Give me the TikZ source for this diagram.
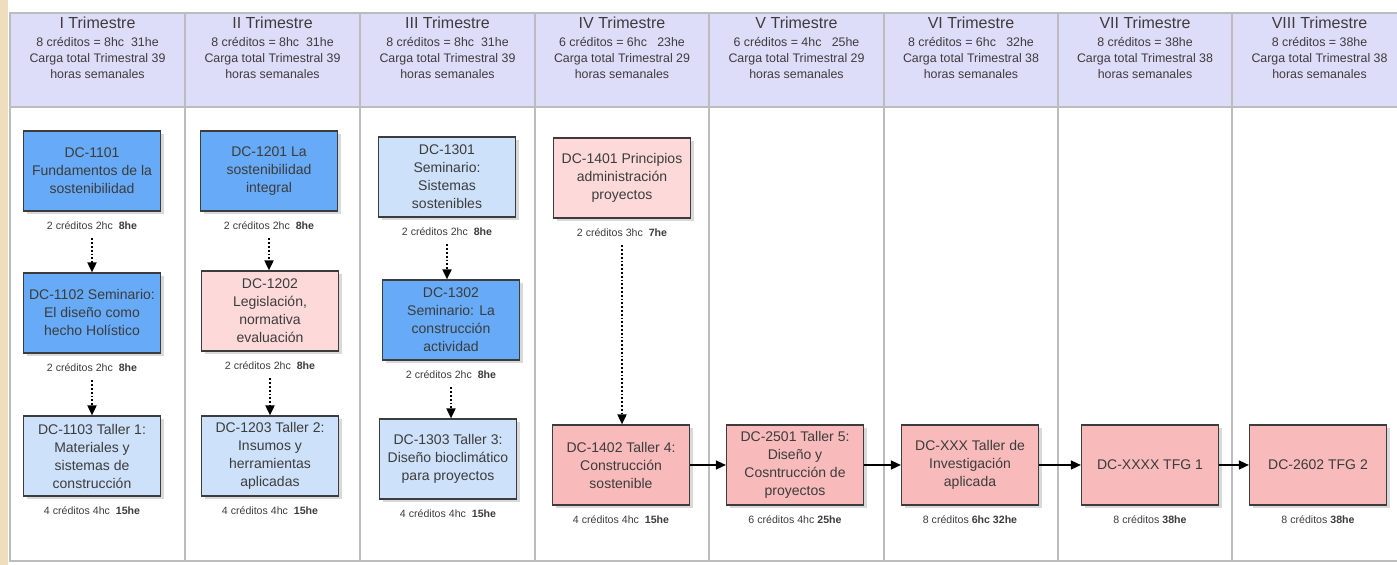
\documentclass[tikz,border=0pt]{standalone}
\usepackage{fontspec}
\setmainfont{Liberation Sans}
\usetikzlibrary{arrows.meta,positioning,shadows}
\definecolor{azul}{RGB}{102,170,248}
\definecolor{celeste}{RGB}{206,225,250}
\definecolor{rosa}{RGB}{253,217,217}
\definecolor{salmon}{RGB}{248,186,186}
\definecolor{lavanda}{RGB}{221,221,250}
\definecolor{rejilla}{RGB}{188,188,188}
\definecolor{beige}{RGB}{238,222,190}
\definecolor{borde}{RGB}{60,60,60}
\definecolor{texto}{RGB}{60,60,60}
\tikzset{
    %Define standard arrow tip
    >={Triangle[width=4.5pt,length=5pt]},
    %Define style for course boxes
    curso/.style={
           rectangle,
           draw=borde, line width=0.6pt,
           minimum width=68.5pt,
           minimum height=40pt,
           inner sep=1pt,
           font=\fontsize{7}{9}\selectfont,
           text=texto,
           align=center,
           drop shadow={opacity=0.3,shadow xshift=1.5pt,shadow yshift=-1.5pt}
           },
    oscuro/.style={curso, fill=azul},
    claro/.style={curso, fill=celeste},
    rosado/.style={curso, fill=rosa},
    taller/.style={curso, fill=salmon},
    creditos/.style={
           inner sep=0pt,
           font=\fontsize{5.3}{6}\selectfont,
           text=texto},
    trim/.style={
           inner sep=0pt,
           font=\fontsize{8}{9}\selectfont,
           text=texto},
    trimdato/.style={
           inner sep=0pt,
           font=\fontsize{6.2}{8}\selectfont,
           text=texto,
           align=center},
    % Define arrow style
    prereq/.style={
           ->,
           densely dotted,
           line width=0.9pt,
           shorten <=4pt},
    sigue/.style={
           ->,
           line width=0.8pt}
}
\begin{document}
\begin{tikzpicture}[x=0.5pt,y=-0.5pt]
\useasboundingbox (0,0) rectangle (1397,565);

 %table
\fill[beige] (0,0) rectangle (8,565);
\fill[lavanda] (10,13) rectangle (1410,107);
\draw[rejilla, line width=0.8pt] (10,13) rectangle (1410,561);
\draw[rejilla, line width=0.8pt] (10,107) -- (1410,107);
\foreach \x in {185,360,535,709,884,1058,1232}
  \draw[rejilla, line width=0.8pt] (\x,13) -- (\x,561);

 %headers
\node[trim] (t1) at (97.5,23) {I Trimestre};
\node[trimdato] (d1) at (97.5,58) {8 créditos = 8hc\ \ 31he\\Carga total Trimestral 39\\horas semanales};
\node[trim] (t2) at (272.5,23) {II Trimestre};
\node[trimdato] (d2) at (272.5,58) {8 créditos = 8hc\ \ 31he\\Carga total Trimestral 39\\horas semanales};
\node[trim] (t3) at (447.5,23) {III Trimestre};
\node[trimdato] (d3) at (447.5,58) {8 créditos = 8hc\ \ 31he\\Carga total Trimestral 39\\horas semanales};
\node[trim] (t4) at (622,23) {IV Trimestre};
\node[trimdato] (d4) at (622,58) {6 créditos = 6hc\ \ \ 23he\\Carga total Trimestral 29\\horas semanales};
\node[trim] (t5) at (796.5,23) {V Trimestre};
\node[trimdato] (d5) at (796.5,58) {6 créditos = 4hc\ \ \ 25he\\Carga total Trimestral 29\\horas semanales};
\node[trim] (t6) at (971,23) {VI Trimestre};
\node[trimdato] (d6) at (971,58) {8 créditos = 6hc\ \ \ 32he\\Carga total Trimestral 38\\horas semanales};
\node[trim] (t7) at (1145,23) {VII Trimestre};
\node[trimdato] (d7) at (1145,58) {8 créditos = 38he\\Carga total Trimestral 38\\horas semanales};
\node[trim] (t8) at (1319.5,23) {VIII Trimestre};
\node[trimdato] (d8) at (1319.5,58) {8 créditos = 38he\\Carga total Trimestral 38\\horas semanales};

 %courses
\node[oscuro] (c11) at (92,171) {DC-1101\\Fundamentos de la\\sostenibilidad};
\node[creditos, below=5pt of c11] (c11l) {2 créditos 2hc\ \ \textbf{8he}};
\node[oscuro] (c12) at (92,313) {DC-1102 Seminario:\\El diseño como\\hecho Holístico};
\node[creditos, below=5pt of c12] (c12l) {2 créditos 2hc\ \ \textbf{8he}};
\node[claro] (c13) at (92,456) {DC-1103 Taller 1:\\Materiales y\\sistemas de\\construcción};
\node[creditos, below=5pt of c13] (c13l) {4 créditos 4hc\ \ \textbf{15he}};

\node[oscuro] (c21) at (269,171) {DC-1201 La\\sostenibilidad\\integral};
\node[creditos, below=5pt of c21] (c21l) {2 créditos 2hc\ \ \textbf{8he}};
\node[rosado] (c22) at (270,311) {DC-1202\\Legislación,\\normativa\\evaluación};
\node[creditos, below=5pt of c22] (c22l) {2 créditos 2hc\ \ \textbf{8he}};
\node[claro] (c23) at (270,456) {DC-1203 Taller 2:\\Insumos y\\herramientas\\aplicadas};
\node[creditos, below=5pt of c23] (c23l) {4 créditos 4hc\ \ \textbf{15he}};

\node[claro] (c31) at (447,177) {DC-1301\\Seminario:\\Sistemas\\sostenibles};
\node[creditos, below=5pt of c31] (c31l) {2 créditos 2hc\ \ \textbf{8he}};
\node[oscuro] (c32) at (451,320) {DC-1302\\Seminario: La\\construcción\\actividad};
\node[creditos, below=5pt of c32] (c32l) {2 créditos 2hc\ \ \textbf{8he}};
\node[claro] (c33) at (448,459) {DC-1303 Taller 3:\\Diseño bioclimático\\para proyectos};
\node[creditos, below=5pt of c33] (c33l) {4 créditos 4hc\ \ \textbf{15he}};

\node[rosado] (c41) at (622,178) {DC-1401 Principios\\administración\\proyectos};
\node[creditos, below=5pt of c41] (c41l) {2 créditos 3hc\ \ \textbf{7he}};
\node[taller] (c42) at (621,465) {DC-1402 Taller 4:\\Construcción\\sostenible};
\node[creditos, below=5pt of c42] (c42l) {4 créditos 4hc\ \ \textbf{15he}};

\node[taller] (c51) at (795,465) {DC-2501 Taller 5:\\Diseño y\\Cosntrucción de\\proyectos};
\node[creditos, below=5pt of c51] (c51l) {6 créditos 4hc \textbf{25he}};
\node[taller] (c61) at (970,465) {DC-XXX Taller de\\Investigación\\aplicada};
\node[creditos, below=5pt of c61] (c61l) {8 créditos \textbf{6hc 32he}};
\node[taller] (c71) at (1150,465) {DC-XXXX TFG 1};
\node[creditos, below=5pt of c71] (c71l) {8 créditos \textbf{38he}};
\node[taller] (c81) at (1318,465) {DC-2602 TFG 2};
\node[creditos, below=5pt of c81] (c81l) {8 créditos \textbf{38he}};

 %prerequisites
\draw[prereq] (c11l) -- (c11l |- c12.north);
\draw[prereq] (c12l) -- (c12l |- c13.north);
\draw[prereq] (c21l) -- (c21l |- c22.north);
\draw[prereq] (c22l) -- (c22l |- c23.north);
\draw[prereq] (c31l) -- (c31l |- c32.north);
\draw[prereq] (c32l) -- (c32l |- c33.north);
\draw[prereq] (c41l) -- (c41l |- c42.north);
\draw[sigue] (c42) -- (c51);
\draw[sigue] (c51) -- (c61);
\draw[sigue] (c61) -- (c71);
\draw[sigue] (c71) -- (c81);
\end{tikzpicture}
\end{document}
